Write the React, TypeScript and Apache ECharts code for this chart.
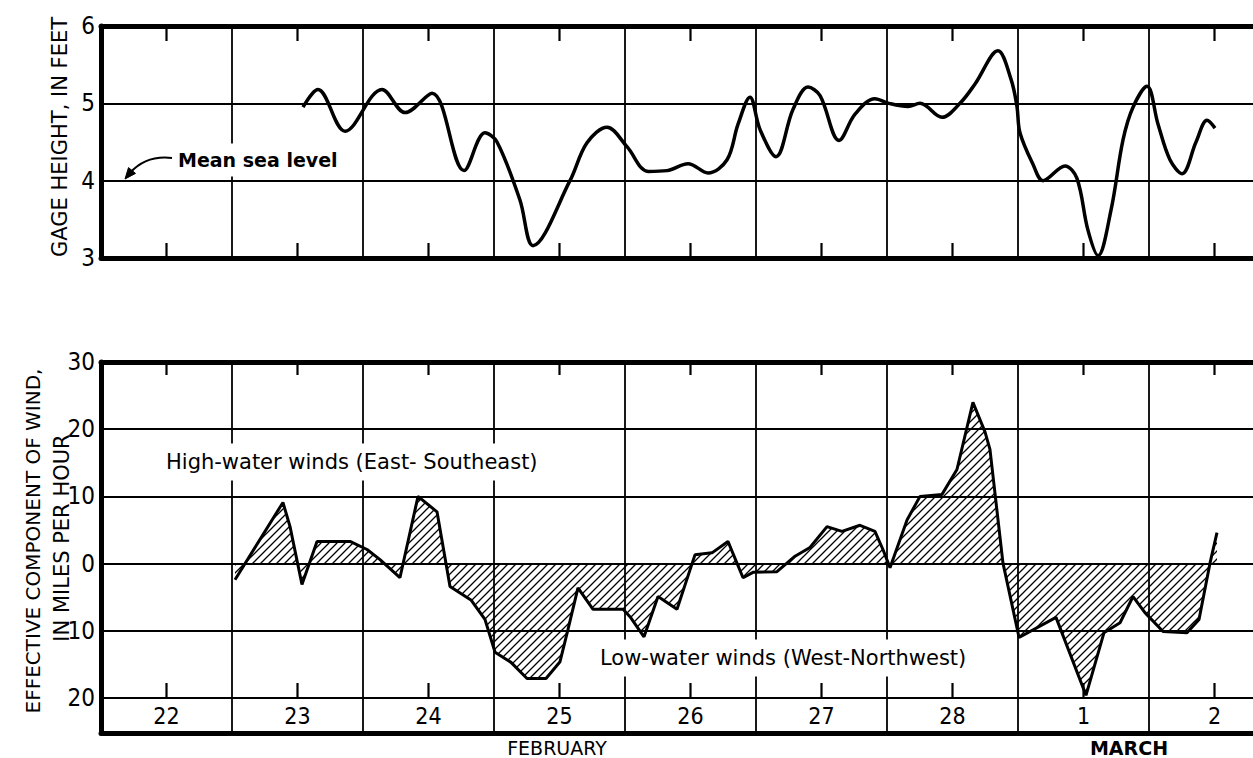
import React, { useEffect, useRef } from "react";
import * as echarts from "echarts";

// ---- data (time in days since 00:00, February 22) ----
const gageDays = [
  1.542, 1.656, 1.863, 2.145, 2.321, 2.527, 2.771, 2.931, 3.023, 3.198, 3.298, 3.58, 3.71, 3.863,
  4.015, 4.176, 4.321, 4.481, 4.634, 4.779, 4.863, 4.954, 5.031, 5.153, 5.282, 5.397, 5.489, 5.634,
  5.756, 5.908, 6.015, 6.16, 6.252, 6.42, 6.557, 6.672, 6.847, 6.947, 6.992, 7.015, 7.115, 7.191,
  7.359, 7.45, 7.534, 7.611, 7.71, 7.802, 7.878, 7.985, 8.069, 8.16, 8.252, 8.359, 8.443, 8.504,
];
const gageFeet = [
  4.95, 5.18, 4.64, 5.18, 4.88, 5.13, 4.13, 4.62, 4.5, 3.75, 3.16, 4.0, 4.49, 4.69,
  4.44, 4.12, 4.13, 4.22, 4.1, 4.27, 4.73, 5.08, 4.66, 4.31, 4.92, 5.21, 5.1, 4.52,
  4.86, 5.06, 5.0, 4.96, 5.0, 4.82, 5.0, 5.25, 5.68, 5.31, 4.96, 4.62, 4.21, 4.0,
  4.19, 4.03, 3.36, 3.03, 3.62, 4.53, 4.95, 5.22, 4.73, 4.27, 4.09, 4.5, 4.78, 4.68,
];
const windDays = [
  1.023, 1.389, 1.443, 1.534, 1.649, 1.901, 2.031, 2.13, 2.282, 2.42, 2.565, 2.664, 2.824, 2.931,
  3.008, 3.13, 3.252, 3.397, 3.504, 3.565, 3.641, 3.756, 3.985, 4.038, 4.145, 4.252, 4.397, 4.534,
  4.664, 4.786, 4.901, 4.977, 5.16, 5.298, 5.412, 5.542, 5.656, 5.794, 5.908, 5.969, 6.023, 6.153,
  6.252, 6.42, 6.534, 6.656, 6.748, 6.786, 6.885, 7.008, 7.29, 7.519, 7.656, 7.779, 7.878, 7.969,
  8.107, 8.29, 8.382, 8.466, 8.519,
];
const windMph = [
  -2.4, 9.1, 5.5, -3.1, 3.3, 3.3, 2.1, 0.6, -2.1, 10.0, 7.7, -3.4, -5.4, -8.3,
  -13.2, -14.7, -17.1, -17.1, -14.6, -9.8, -3.6, -6.8, -6.8, -7.9, -10.9, -4.9, -6.8, 1.3,
  1.6, 3.3, -2.1, -1.3, -1.2, 1.1, 2.4, 5.5, 4.8, 5.7, 4.8, 2.1, -0.6, 6.5,
  10.0, 10.3, 14.0, 24.0, 19.6, 17.0, 0.1, -11.0, -8.0, -19.6, -10.3, -8.8, -4.9, -7.3,
  -10.1, -10.3, -8.3, 0.1, 4.6,
];
const dayLabels = ["22", "23", "24", "25", "26", "27", "28", "1", "2"];
const noonDays = [0.5, 1.5, 2.5, 3.5, 4.5, 5.5, 6.5, 7.5, 8.5];
const gageRange = [3, 6];
const windRange = [-20, 30];
const dayRange = [0, 9];

export default function App() {
  const ref = useRef<HTMLDivElement>(null);

  useEffect(() => {
    const el = ref.current;
    if (!el) return;
    const chart = echarts.init(el, null, { renderer: "svg", width: 1253, height: 758 });

    const cv = document.createElement("canvas");
    cv.width = 8;
    cv.height = 8;
    const ctx = cv.getContext("2d");
    if (ctx) {
      ctx.strokeStyle = "#000";
      ctx.lineWidth = 1.3;
      ctx.beginPath();
      ctx.moveTo(0, 8);
      ctx.lineTo(8, 0);
      ctx.moveTo(-2, 2);
      ctx.lineTo(2, -2);
      ctx.moveTo(6, 10);
      ctx.lineTo(10, 6);
      ctx.stroke();
    }
    const hatch: any = { image: cv, repeat: "repeat", imageWidth: 8, imageHeight: 8 };

    const black = "#000";
    const digitFont = "'Liberation Sans Narrow', 'DejaVu Sans Condensed', 'DejaVu Sans', sans-serif";
    const letterFont = "'DejaVu Sans', 'Liberation Sans', sans-serif";
    const L = 101;
    const W = 9 * 131;
    const T0 = 26;
    const H0 = 232;
    const T1 = 362;
    const H1 = 336;
    const gridLine = { color: black, width: 1.8 };

    const timeAxis = (gridIndex: number, position: string, lineWidth: number, split: boolean) => ({
      type: "value",
      gridIndex,
      position,
      min: dayRange[0],
      max: dayRange[1],
      interval: 1,
      axisLine: { show: true, onZero: false, lineStyle: { color: black, width: lineWidth } },
      axisTick: { show: false },
      axisLabel: { show: false },
      splitLine: { show: split, lineStyle: gridLine },
    });

    const grids = [
      { left: L, width: W, top: T0, height: H0, outerBoundsMode: "none", containLabel: false },
      { left: L, width: W, top: T1, height: H1, outerBoundsMode: "none", containLabel: false },
      { left: L, width: W, top: 698, height: 35, outerBoundsMode: "none", containLabel: false },
    ];

    const textStyle = (text: string, size: number, align: string, weight: string = "normal") => ({
      text,
      fill: black,
      fontSize: size,
      fontFamily: letterFont,
      fontWeight: weight,
      textAlign: align,
      align,
      textVerticalAlign: "middle",
      verticalAlign: "middle",
    });

    // noon tick marks along the plot edges, on the same time scale as the grids
    const dayToX = (d: number) => L + ((d - dayRange[0]) / (dayRange[1] - dayRange[0])) * W;
    const tickEdges = [
      { y0: T0, y1: T0 + 15 },
      { y0: T0 + H0, y1: T0 + H0 - 15 },
      { y0: T1, y1: T1 + 13 },
      { y0: T1 + H1, y1: T1 + H1 - 15 },
    ];
    const tickGraphics: any[] = [];
    tickEdges.forEach((t) => {
      noonDays.forEach((d) => {
        tickGraphics.push({
          type: "polyline",
          z: 20,
          shape: { points: [[dayToX(d), t.y0], [dayToX(d), t.y1]] },
          style: { stroke: black, lineWidth: 2.2, fill: null },
        });
      });
    });

    const option: any = {
      animation: false,
      backgroundColor: "#fff",
      grid: grids,
      xAxis: [
        timeAxis(0, "bottom", 5, true),
        timeAxis(0, "top", 5, false),
        timeAxis(1, "bottom", 1.8, true),
        timeAxis(1, "top", 5, false),
        {
          type: "category",
          gridIndex: 2,
          position: "bottom",
          data: dayLabels,
          boundaryGap: true,
          axisLine: { show: true, onZero: false, lineStyle: { color: black, width: 5 } },
          axisTick: { show: false },
          axisLabel: { inside: true, interval: 0, color: black, fontSize: 23, fontFamily: digitFont, margin: 6 },
          splitLine: { show: true, interval: 0, lineStyle: gridLine },
        },
      ],
      yAxis: [
        {
          type: "value",
          gridIndex: 0,
          position: "left",
          min: gageRange[0],
          max: gageRange[1],
          interval: 1,
          axisLine: { show: true, onZero: false, lineStyle: { color: black, width: 5 } },
          axisTick: { show: false },
          axisLabel: { color: black, fontSize: 24, fontFamily: digitFont, margin: 6 },
          splitLine: { show: true, lineStyle: gridLine },
        },
        {
          type: "value",
          gridIndex: 1,
          position: "left",
          min: windRange[0],
          max: windRange[1],
          interval: 10,
          axisLine: { show: true, onZero: false, lineStyle: { color: black, width: 5 } },
          axisTick: { show: false },
          axisLabel: {
            color: black,
            fontSize: 24,
            fontFamily: digitFont,
            margin: 6,
            formatter: (v: number) => String(Math.abs(v)),
          },
          splitLine: { show: true, lineStyle: gridLine },
        },
        {
          type: "value",
          gridIndex: 2,
          position: "left",
          min: 0,
          max: 1,
          axisLine: { show: true, onZero: false, lineStyle: { color: black, width: 5 } },
          axisTick: { show: false },
          axisLabel: { show: false },
          splitLine: { show: false },
        },
      ],
      series: [
        {
          type: "line",
          xAxisIndex: 0,
          yAxisIndex: 0,
          data: gageDays.map((d, i) => [d, gageFeet[i]]),
          smooth: 0.35,
          symbol: "none",
          lineStyle: { color: black, width: 3.5 },
          z: 4,
        },
        {
          type: "line",
          xAxisIndex: 2,
          yAxisIndex: 1,
          data: windDays.map((d, i) => [d, windMph[i]]),
          smooth: false,
          symbol: "none",
          lineStyle: { color: black, width: 3 },
          areaStyle: { color: hatch, opacity: 1, origin: 0 },
          emphasis: { disabled: true },
          z: 4,
        },
      ],
      graphic: [
        { type: "text", x: 60, y: 137, rotation: Math.PI / 2, z: 10, style: textStyle("GAGE HEIGHT, IN FEET", 21, "center") },
        { type: "text", x: 33, y: 541, rotation: Math.PI / 2, z: 10, style: textStyle("EFFECTIVE COMPONENT OF WIND,", 20, "center") },
        { type: "text", x: 62, y: 538, rotation: Math.PI / 2, z: 10, style: textStyle("IN MILES PER HOUR", 21, "center") },
        {
          type: "text",
          x: 175,
          y: 160,
          z: 10,
          style: { ...textStyle("Mean sea level", 19, "left", "bold"), backgroundColor: "#fff", padding: [7, 3] },
        },
        {
          type: "bezierCurve",
          z: 11,
          shape: { x1: 172, y1: 158, cpx1: 146, cpy1: 155, x2: 130, y2: 173 },
          style: { stroke: black, lineWidth: 2, fill: null },
        },
        {
          type: "polygon",
          z: 11,
          shape: { points: [[125, 179], [135.5, 173.4], [128.5, 167.6]] },
          style: { fill: black, stroke: black, lineWidth: 1 },
        },
        {
          type: "text",
          x: 163,
          y: 462,
          z: 10,
          style: { ...textStyle("High-water winds (East- Southeast)", 21, "left"), backgroundColor: "#fff", padding: [8, 3] },
        },
        {
          type: "text",
          x: 597,
          y: 658,
          z: 10,
          style: { ...textStyle("Low-water winds (West-Northwest)", 21, "left"), backgroundColor: "#fff", padding: [8, 3] },
        },
        { type: "text", x: 557, y: 748, z: 10, style: textStyle("FEBRUARY", 19, "center") },
        { type: "text", x: 1129, y: 748, z: 10, style: textStyle("MARCH", 19, "center", "bold") },
        ...tickGraphics,
      ],
    };

    chart.setOption(option);
    return () => {
      chart.dispose();
    };
  }, []);

  return (
    <div
      ref={ref}
      style={{ position: "fixed", left: 0, top: 0, width: 1253, height: 758, background: "#fff" }}
    />
  );
}
